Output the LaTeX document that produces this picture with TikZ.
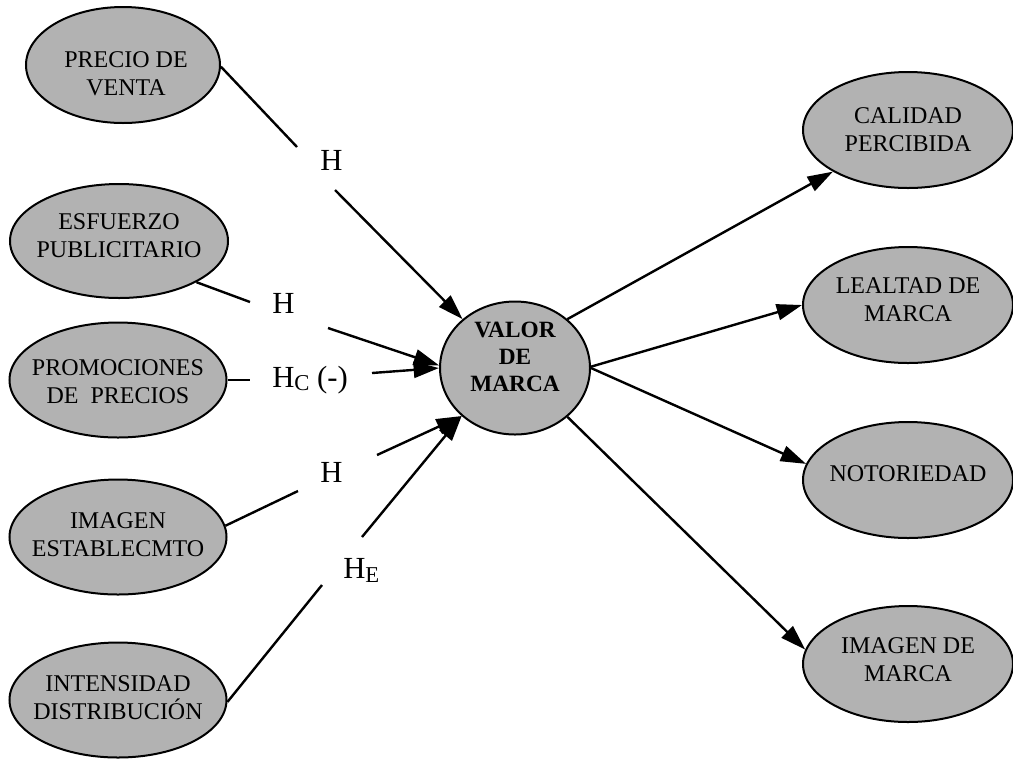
\documentclass[tikz,border=0pt]{standalone}
\usepackage{fontspec}
\setmainfont{Liberation Serif}
\usetikzlibrary{shapes.geometric,arrows.meta}
\definecolor{ovalgray}{RGB}{178,178,178}
\newcommand\ovalfont{\fontsize{18pt}{21pt}\selectfont}
\newcommand\boldovalfont{\fontsize{17.5pt}{20.25pt}\selectfont\bfseries}
\newcommand\hypfont{\fontsize{23pt}{27pt}\selectfont}
% lowered subscript letter of a hypothesis label: #1 = drop, #2 = letter
\newcommand\hypsub[2]{\raisebox{-#1}{\fontsize{17pt}{20pt}\selectfont #2}}

\begin{document}
\begin{tikzpicture}[x=0.75pt,y=-0.75pt,
  oval/.style={ellipse, draw=black, line width=1.5pt, fill=ovalgray, inner sep=0pt},
  leftoval/.style={oval, minimum width=162.75pt, minimum height=86.25pt},
  rightoval/.style={oval, minimum width=157.5pt, minimum height=87pt},
  ovaltext/.style={align=center, font=\ovalfont, inner sep=0pt},
  hyp/.style={anchor=base west, inner sep=0pt, font=\hypfont},
  link/.style={line width=1.8pt},
  arrowlink/.style={link, -{Triangle[length=19pt,width=12pt]}}]

\useasboundingbox (0,0) rectangle (1013,758);

% antecedents (left column)
\node[oval, minimum width=145.5pt, minimum height=87pt,
  label={[ovaltext, xshift=2.25pt, yshift=-6.75pt]center:PRECIO DE\\VENTA}]
  (precio) at (123,65) {};
\node[oval, minimum width=163.5pt, minimum height=85.5pt,
  label={[ovaltext, yshift=4.1pt]center:ESFUERZO\\PUBLICITARIO}]
  (esfuerzo) at (119,241) {};
\node[leftoval,
  label={[ovaltext, yshift=-1.5pt]center:PROMOCIONES\\DE~~PRECIOS}]
  (promo) at (118,380) {};
\node[leftoval,
  label={[ovaltext, yshift=1.5pt]center:IMAGEN\\ESTABLECMTO}]
  (imagenest) at (118,537) {};
\node[leftoval,
  label={[ovaltext, yshift=1.5pt]center:INTENSIDAD\\DISTRIBUCIÓN}]
  (intens) at (118,700) {};

% central construct
\node[oval, minimum width=112.5pt, minimum height=99.75pt,
  label={[ovaltext, font=\boldovalfont, yshift=8.25pt]center:VALOR\\DE\\MARCA}]
  (valor) at (515,368) {};

% dimensions (right column)
\node[rightoval,
  label={[ovaltext]center:CALIDAD\\PERCIBIDA}]
  (calidad) at (908,130) {};
\node[rightoval,
  label={[ovaltext, yshift=4.1pt]center:LEALTAD DE\\MARCA}]
  (lealtad) at (908,305) {};
\node[rightoval,
  label={[ovaltext, yshift=4.9pt]center:NOTORIEDAD}]
  (notor) at (908,480) {};
\node[rightoval,
  label={[ovaltext, yshift=3pt]center:IMAGEN DE\\MARCA}]
  (imgmarca) at (908,664) {};

% hypothesis labels
\node[hyp] (h1) at (320,170) {H};
\node[hyp] (h2) at (272,313) {H};
\node[hyp] (h3) at (272,387) {H\hypsub{2.5pt}{C} (-)};
\node[hyp] (h4) at (320,482) {H};
\node[hyp] (h5) at (343,578) {H\hypsub{3.5pt}{E}};

% break points of the interrupted arrows around the labels
\coordinate (a1) at (297,147); \coordinate (a2) at (335,190);
\coordinate (b1) at (250,302); \coordinate (b2) at (328,328);
\coordinate (c1) at (250,380); \coordinate (c2) at (372,373);
\coordinate (d1) at (298,491); \coordinate (d2) at (377,455);
\coordinate (e1) at (322,585); \coordinate (e2) at (362,537);

% antecedents -> brand equity
\draw[link] (precio.359) -- (a1);
\draw[arrowlink] (a2) -- (valor.137);
\draw[link] (esfuerzo.332) -- (b1);
\draw[arrowlink] (b2) -- (valor.178);
\draw[link] (promo.0) -- (c1);
\draw[arrowlink] (c2) -- (valor.180);
\draw[link] (imagenest.6) -- (d1);
\draw[arrowlink] (d2) -- (valor.222);
\draw[link] (intens.359) -- (e1);
\draw[arrowlink] (e2) -- (valor.222);

% brand equity -> dimensions
\draw[arrowlink] (valor.43) -- (calidad.209);
\draw[arrowlink] (valor.1) -- (lealtad.180);
\draw[arrowlink] (valor.0) -- (notor.171);
\draw[arrowlink] (valor.317) -- (imgmarca.172);
\end{tikzpicture}
\end{document}
